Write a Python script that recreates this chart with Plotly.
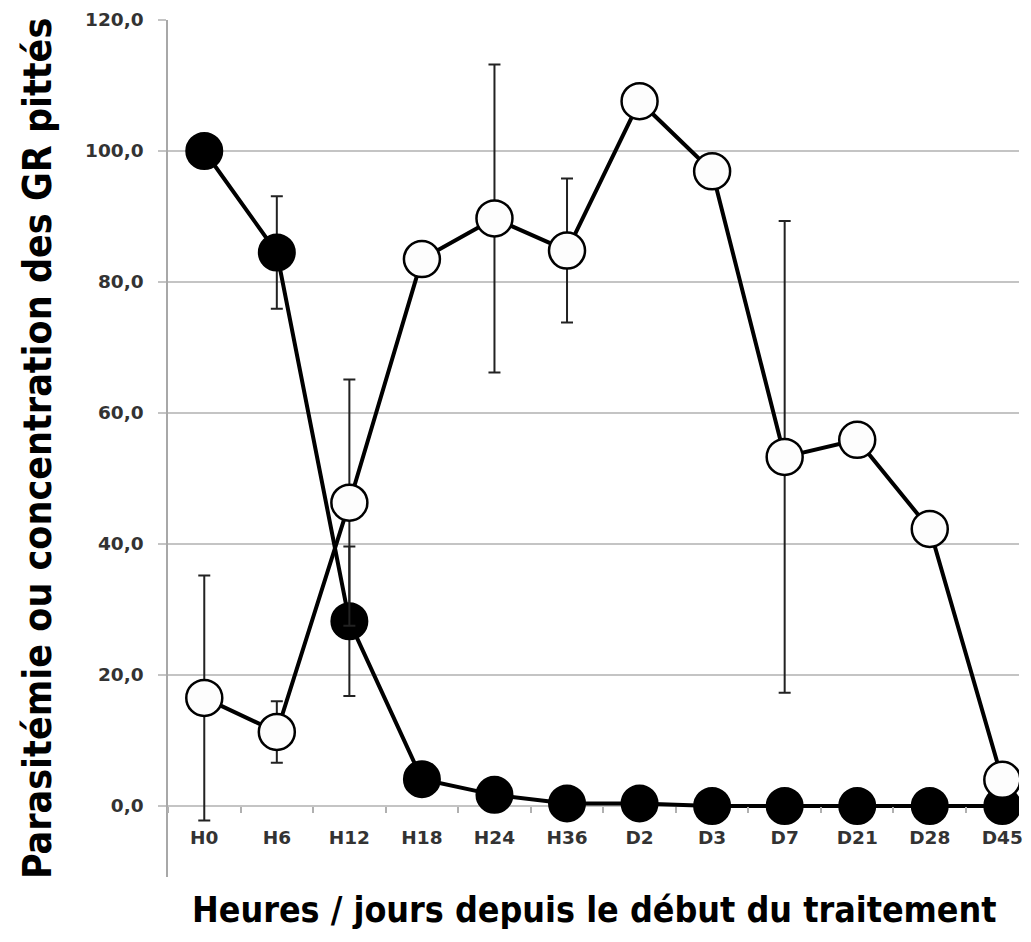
import plotly.graph_objects as go

categories = ["H0", "H6", "H12", "H18", "H24", "H36", "D2", "D3", "D7", "D21", "D28", "D45"]
parasitemie = [100.0, 84.5, 28.2, 4.1, 1.7, 0.4, 0.4, 0.0, 0.0, 0.0, 0.0, 0.0]
parasitemie_err = [0.0, 8.6, 11.4, 0.0, 0.0, 0.0, 0.0, 0.0, 0.0, 0.0, 0.0, 0.0]
gr_pittes = [16.5, 11.3, 46.3, 83.5, 89.7, 84.8, 107.6, 96.9, 53.3, 55.9, 42.3, 4.0]
gr_pittes_err = [18.7, 4.7, 18.8, 0.0, 23.5, 11.0, 0.0, 0.0, 36.0, 0.0, 0.0, 0.0]
y_ticks = [0, 20, 40, 60, 80, 100, 120]
y_ticktext = ["0,0", "20,0", "40,0", "60,0", "80,0", "100,0", "120,0"]

y_min = -10.84
y_max = 120.0

# page body has an 8px default margin: figure is sized/offset to compensate
W, H = 1015, 926
ML, MT, MB, MR = 160, 12, 57, 0
PW = W - ML - MR
PH = H - MT - MB

fig = go.Figure()

fig.add_trace(go.Scatter(
    x=categories, y=parasitemie, mode="lines+markers",
    line=dict(color="black", width=4),
    marker=dict(size=36, color="black", line=dict(color="black", width=2)),
    error_y=dict(type="data", array=parasitemie_err, visible=True,
                 color="#222222", thickness=2, width=6),
    showlegend=False,
))
fig.add_trace(go.Scatter(
    x=categories, y=gr_pittes, mode="lines+markers",
    line=dict(color="black", width=4),
    marker=dict(size=36, color="#fdfdfd", line=dict(color="black", width=2.5)),
    error_y=dict(type="data", array=gr_pittes_err, visible=True,
                 color="#222222", thickness=2, width=6),
    showlegend=False,
))

tick_font = dict(family="'DejaVu Sans', sans-serif", size=18.5, color="#333333", weight="bold")
title_family = "'Liberation Sans Narrow', 'DejaVu Sans Condensed', 'Arial Narrow', sans-serif"

fig.update_layout(
    width=W, height=H,
    margin=dict(l=ML, r=MR, t=MT, b=MB),
    paper_bgcolor="white", plot_bgcolor="white",
    xaxis=dict(
        type="category",
        categoryorder="array", categoryarray=categories,
        range=[-0.5, 11.23],
        anchor="free",
        position=(0 - y_min) / (y_max - y_min),
        showline=False, showgrid=False, zeroline=False,
        ticks="outside", tickson="boundaries", ticklen=6,
        tickcolor="#b0b0b0", tickwidth=1.5,
        tickfont=tick_font,
        ticklabelstandoff=19,
    ),
    yaxis=dict(
        range=[y_min, y_max],
        tickvals=y_ticks, ticktext=y_ticktext,
        showgrid=True, gridcolor="#c4c4c4", gridwidth=2,
        zeroline=False,
        showline=True, linecolor="#a8a8a8", linewidth=1.5,
        ticks="outside", ticklen=8, tickcolor="#c4c4c4", tickwidth=2,
        tickfont=tick_font,
        ticklabelstandoff=11,
    ),
    annotations=[
        dict(text="<b>Parasitémie ou concentration des GR pittés</b>",
             xref="paper", yref="paper", x=(29 - ML) / PW, y=0.5,
             xanchor="center", yanchor="middle", textangle=-90, showarrow=False,
             font=dict(family=title_family, size=39, color="black")),
        dict(text="<b>Heures / jours depuis le début du traitement</b>",
             xref="paper", yref="paper", x=(589 - ML) / PW, y=-(H - 2 - (MT + PH)) / PH,
             xanchor="center", yanchor="bottom", showarrow=False,
             font=dict(family=title_family, size=35.5, color="black")),
    ],
)

fig.write_html("out.html")
